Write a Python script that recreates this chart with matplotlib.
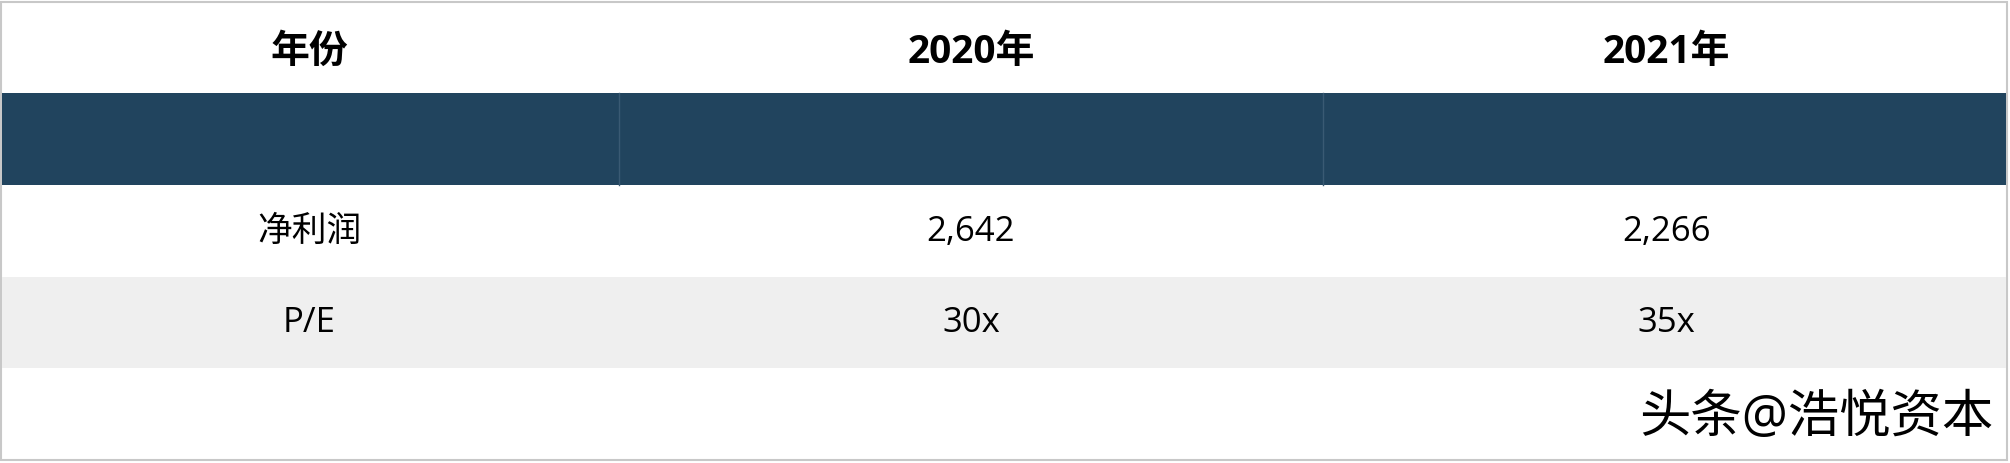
import matplotlib.pyplot as plt
from matplotlib.patches import Rectangle

plt.rcParams['font.family'] = ['Open Sans', 'Noto Sans CJK SC', 'DejaVu Sans']

headers = ['年份', '2020年', '2021年']
row_labels = ['净利润', 'P/E']
values_2020 = ['2,642', '30x']
values_2021 = ['2,266', '35x']

W, H = 2010, 464
col_edges = [0, 619, 1323, W]
row_edges = [3, 94, 186, 278, 369]

fig = plt.figure(figsize=(W / 100, H / 100), dpi=100)
ax = fig.add_axes([0, 0, 1, 1])
ax.set_xlim(0, W)
ax.set_ylim(H, 0)
ax.axis('off')

# outer frame
ax.add_patch(Rectangle((1, 3), W - 4, H - 6, fill=False, ec='#c8c8c8', lw=1.5))
# dark band
ax.add_patch(Rectangle((2, row_edges[1]), W - 6, row_edges[2] - row_edges[1],
                       fc='#21445e', ec='none'))
for x in col_edges[1:-1]:
    ax.plot([x, x], [row_edges[1], row_edges[2]], color='#3a5a73', lw=1)
# grey row
ax.add_patch(Rectangle((2, row_edges[3]), W - 6, row_edges[4] - row_edges[3],
                       fc='#efefef', ec='none'))

centers = [(col_edges[i] + col_edges[i + 1]) / 2 for i in range(3)]
for c, h in zip(centers, headers):
    ax.text(c, (row_edges[0] + row_edges[1]) / 2 + 4, h, ha='center', va='center',
            fontsize=28, fontweight='bold')

for r, (lab, a, b) in enumerate(zip(row_labels, values_2020, values_2021)):
    y = (row_edges[r + 2] + row_edges[r + 3]) / 2
    for c, t in zip(centers, [lab, a, b]):
        ax.text(c, y, t, ha='center', va='center', fontsize=25)

ax.text(1993, 419, '头条@浩悦资本', ha='right', va='center', fontsize=37)

fig.savefig('out.png', dpi=100)
